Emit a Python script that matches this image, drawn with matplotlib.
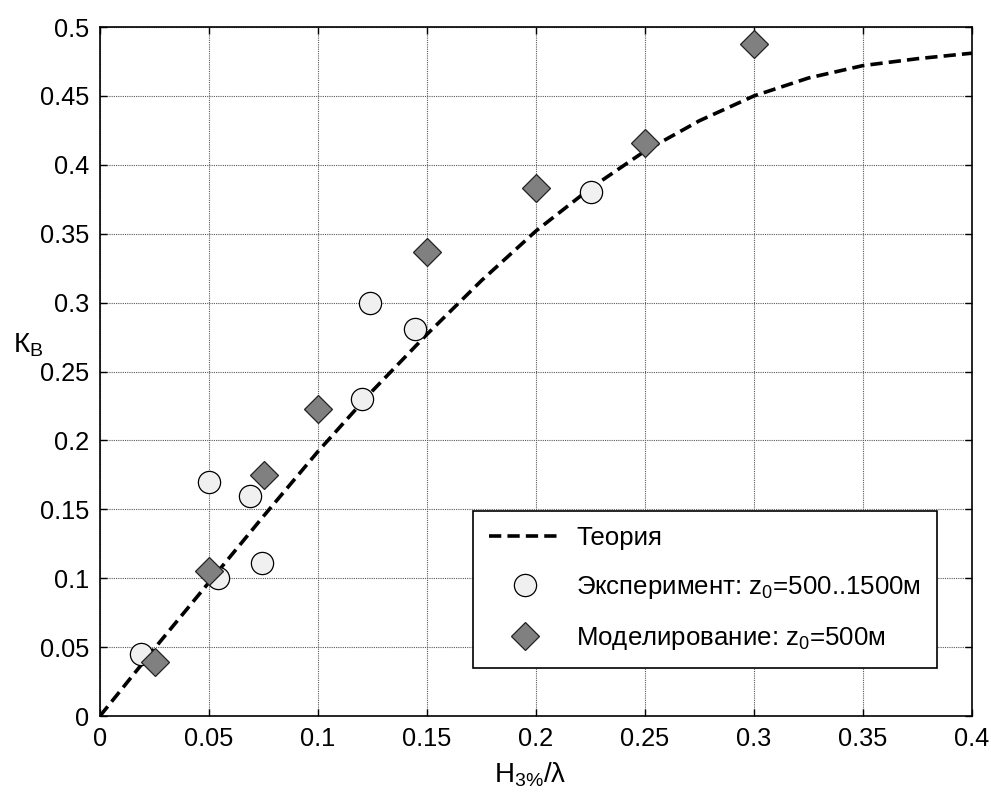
import numpy as np
import matplotlib
matplotlib.use("Agg")
import matplotlib.pyplot as plt

plt.rcParams['font.family'] = ['Liberation Sans', 'DejaVu Sans']
plt.rcParams['mathtext.fontset'] = 'custom'
plt.rcParams['mathtext.rm'] = 'Liberation Sans'
plt.rcParams['mathtext.it'] = 'Liberation Sans'

# Theoretical curve K_B(H/lambda)
theory_x = [0, 0.025, 0.05, 0.075, 0.1, 0.125, 0.15, 0.175, 0.2, 0.225,
            0.25, 0.275, 0.3, 0.325, 0.35, 0.375, 0.4]
theory_y = [0, 0.049, 0.097, 0.145, 0.192, 0.236, 0.277, 0.316, 0.352, 0.383,
            0.41, 0.432, 0.45, 0.463, 0.472, 0.477, 0.481]

# Field experiment, z0 = 500..1500 m
exp_x = [0.019, 0.05, 0.054, 0.069, 0.0745, 0.12, 0.124, 0.1445, 0.225]
exp_y = [0.045, 0.17, 0.10, 0.16, 0.111, 0.23, 0.30, 0.281, 0.38]

# Numerical modelling, z0 = 500 m
mod_x = [0.025, 0.05, 0.075, 0.1, 0.15, 0.2, 0.25, 0.3]
mod_y = [0.039, 0.105, 0.175, 0.223, 0.337, 0.383, 0.416, 0.488]

xticks = np.arange(0, 0.401, 0.05)
yticks = np.arange(0, 0.501, 0.05)
xtick_labels = ['0', '0.05', '0.1', '0.15', '0.2', '0.25', '0.3', '0.35', '0.4']
ytick_labels = ['0', '0.05', '0.1', '0.15', '0.2', '0.25', '0.3', '0.35', '0.4', '0.45', '0.5']

fig = plt.figure(figsize=(9.91, 7.92), dpi=100)
ax = fig.add_axes([100 / 991, 1 - 716 / 792, 872 / 991, 689 / 792])

ax.plot(theory_x, theory_y, color='black', lw=2.6, dashes=(3.4, 1.7),
        label='Теория', zorder=3)
ax.plot(exp_x, exp_y, 'o', ms=16, mfc='#f0f0f0', mec='black', mew=0.9,
        label='Эксперимент: z$_{\\mathregular{0}}$=500..1500м', zorder=4)
ax.plot(mod_x, mod_y, 'D', ms=14.5, mfc='#808080', mec='#222222', mew=0.9,
        label='Моделирование: z$_{\\mathregular{0}}$=500м', zorder=4)

ax.set_xlim(0, 0.4)
ax.set_ylim(0, 0.5)
ax.set_xticks(xticks)
ax.set_xticklabels(xtick_labels)
ax.set_yticks(yticks)
ax.set_yticklabels(ytick_labels)
ax.tick_params(direction='in', top=True, right=True, length=5, width=1,
               labelsize=18.3, pad=8)
ax.grid(True, color='0.35', linestyle=(0, (1, 1)), linewidth=0.8)
for sp in ax.spines.values():
    sp.set_linewidth(1.2)

ax.set_xlabel('H$_{\\mathregular{3\\%}}$/λ', fontsize=20, va='baseline')
ax.xaxis.set_label_coords(0.493, -0.096)
ax.set_ylabel('К$_{\\mathregular{В}}$', fontsize=20, rotation=0,
              ha='left', va='baseline')
ax.yaxis.set_label_coords(-0.1, 0.528)

leg = ax.legend(loc='upper left', bbox_to_anchor=(473 / 991, 1 - 511 / 792),
                bbox_transform=fig.transFigure, borderaxespad=0,
                fontsize=18.6, handlelength=2.85, handletextpad=0.55,
                labelspacing=0.92, borderpad=0.6, fancybox=False,
                framealpha=1, edgecolor='black', numpoints=1)
leg.get_frame().set_linewidth(1.2)

fig.savefig('out.png', dpi=100)
